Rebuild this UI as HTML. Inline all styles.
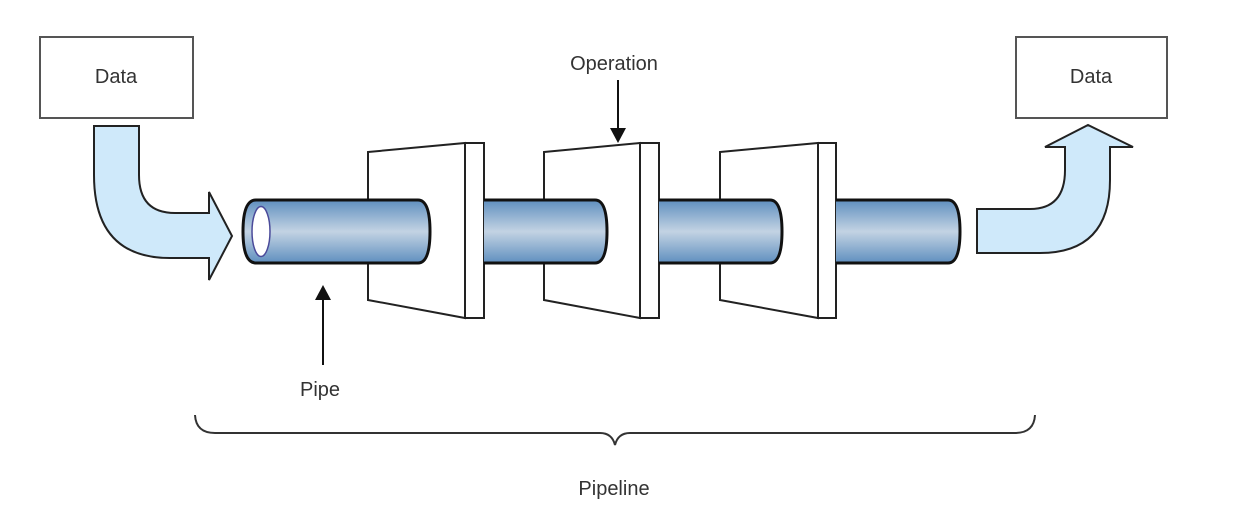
<!DOCTYPE html>
<html><head><meta charset="utf-8"><style>
html,body{margin:0;padding:0;background:#fff;}
svg{display:block;}
text{font-family:"Liberation Sans",sans-serif;fill:#333;}
</style></head><body>
<svg width="1254" height="510" viewBox="0 0 1254 510" xmlns="http://www.w3.org/2000/svg">
<defs>
<linearGradient id="pg" x1="0" y1="0" x2="0" y2="1">
<stop offset="0" stop-color="#5f8fbf"/>
<stop offset="0.5" stop-color="#c3d3e3"/>
<stop offset="1" stop-color="#5f8fbf"/>
</linearGradient>
</defs>
<rect x="40" y="37" width="153" height="81" fill="#fff" stroke="#555" stroke-width="2"/>
<text x="116" y="83" font-size="20" text-anchor="middle">Data</text>
<rect x="1016" y="37" width="151" height="81" fill="#fff" stroke="#555" stroke-width="2"/>
<text x="1091" y="83" font-size="20" text-anchor="middle">Data</text>
<path d="M94 126 L139 126 L139 175 Q139 213 175 213 L209 213 L209 192 L232 236 L209 280 L209 258 L170 258 Q94 258 94 175 Z" fill="#cfe9fa" stroke="#222" stroke-width="2"/>
<path d="M977 209 L1030 209 Q1065 209 1065 170 L1065 147 L1045 147 L1088 125 L1133 147 L1110 147 L1110 180 Q1110 253 1040 253 L977 253 Z" fill="#cfe9fa" stroke="#222" stroke-width="2"/>
<!-- pipe 1 -->
<path d="M256 200 L418 200 Q430 200 430 231.5 Q430 263 418 263 L256 263 Q243 263 243 231.5 Q243 200 256 200 Z" fill="url(#pg)" stroke="#111" stroke-width="3"/>
<ellipse cx="261" cy="231.5" rx="9" ry="25" fill="#fff" stroke="#4a4a9a" stroke-width="1.5"/>
<!-- op 1 -->
<path d="M368 152 L465 143 L465 318 L368 300 Z" fill="#fff" stroke="#222" stroke-width="2"/>
<rect x="465" y="143" width="19" height="175" fill="#fff" stroke="#222" stroke-width="2"/>
<path d="M366 200 L418 200 Q430 200 430 231.5 Q430 263 418 263 L366 263 Z" fill="url(#pg)"/>
<path d="M366 200 L418 200 Q430 200 430 231.5 Q430 263 418 263 L366 263" fill="none" stroke="#111" stroke-width="3"/>
<!-- pipe 2 -->
<path d="M484 200 L595 200 Q607 200 607 231.5 Q607 263 595 263 L484 263" fill="url(#pg)" stroke="#111" stroke-width="3"/>
<!-- op 2 -->
<path d="M544 152 L640 143 L640 318 L544 300 Z" fill="#fff" stroke="#222" stroke-width="2"/>
<rect x="640" y="143" width="19" height="175" fill="#fff" stroke="#222" stroke-width="2"/>
<path d="M542 200 L595 200 Q607 200 607 231.5 Q607 263 595 263 L542 263 Z" fill="url(#pg)"/>
<path d="M542 200 L595 200 Q607 200 607 231.5 Q607 263 595 263 L542 263" fill="none" stroke="#111" stroke-width="3"/>
<!-- pipe 3 -->
<path d="M659 200 L770 200 Q782 200 782 231.5 Q782 263 770 263 L659 263" fill="url(#pg)" stroke="#111" stroke-width="3"/>
<!-- op 3 -->
<path d="M720 152 L818 143 L818 318 L720 300 Z" fill="#fff" stroke="#222" stroke-width="2"/>
<rect x="818" y="143" width="18" height="175" fill="#fff" stroke="#222" stroke-width="2"/>
<path d="M718 200 L770 200 Q782 200 782 231.5 Q782 263 770 263 L718 263 Z" fill="url(#pg)"/>
<path d="M718 200 L770 200 Q782 200 782 231.5 Q782 263 770 263 L718 263" fill="none" stroke="#111" stroke-width="3"/>
<!-- pipe 4 -->
<path d="M836 200 L948 200 Q960 200 960 231.5 Q960 263 948 263 L836 263" fill="url(#pg)" stroke="#111" stroke-width="3"/>
<text x="614" y="70" font-size="20" text-anchor="middle">Operation</text>
<line x1="618" y1="80" x2="618" y2="130" stroke="#111" stroke-width="2"/>
<path d="M610 128 L626 128 L618 143 Z" fill="#111"/>
<line x1="323" y1="365" x2="323" y2="298" stroke="#111" stroke-width="2"/>
<path d="M315 300 L331 300 L323 285 Z" fill="#111"/>
<text x="320" y="396" font-size="20" text-anchor="middle">Pipe</text>
<path d="M195 415 Q196 433 215 433 L600 433 Q612 433 615 445 Q618 433 630 433 L1015 433 Q1034 433 1035 415" fill="none" stroke="#333" stroke-width="2"/>
<text x="614" y="495" font-size="20" text-anchor="middle">Pipeline</text>
</svg>
</body></html>
